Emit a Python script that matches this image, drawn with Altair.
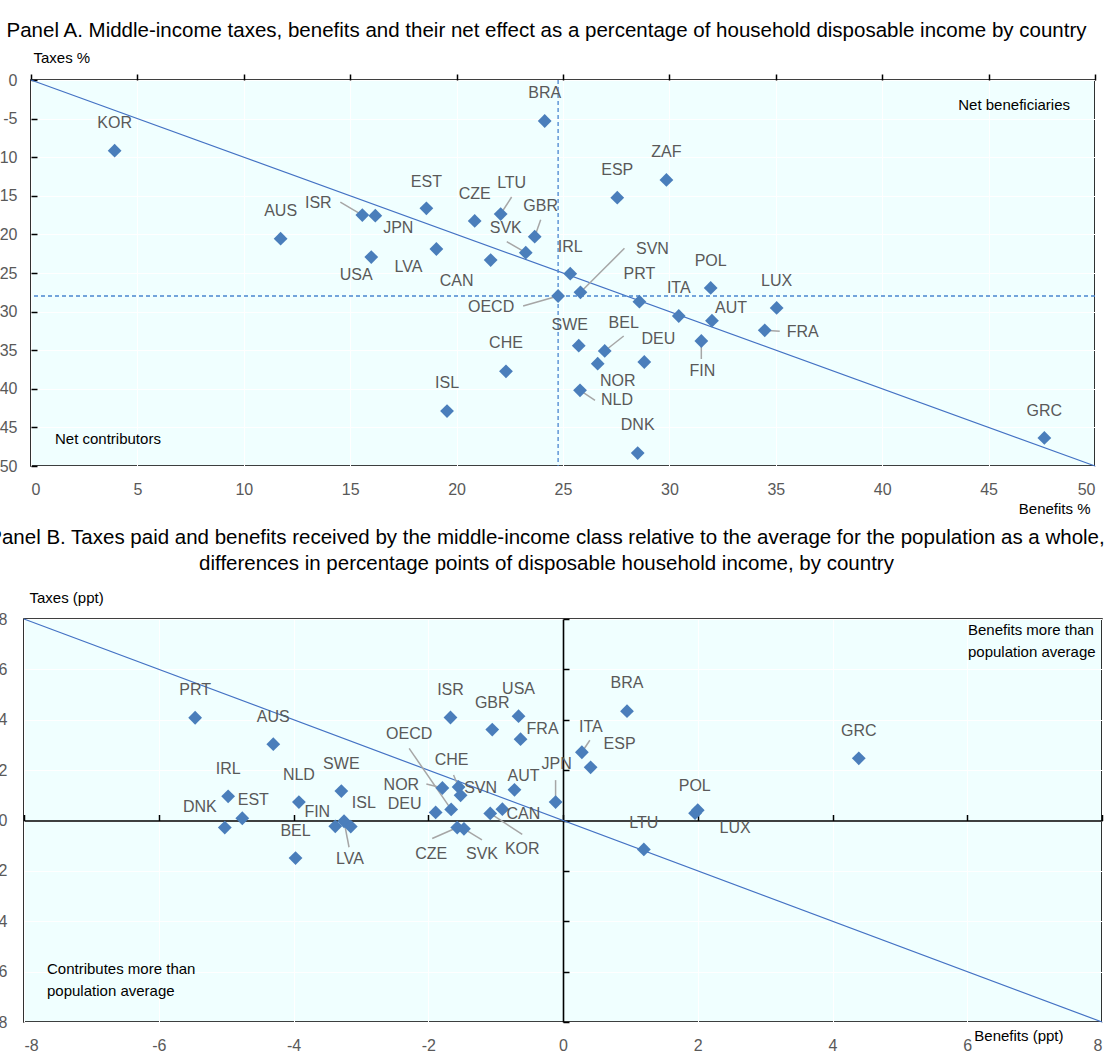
import altair as alt
import pandas as pd

FONT = "'Liberation Sans', Arial, sans-serif"
GRAY = "#595959"
BLUE = "#4A7EBB"
LINE_BLUE = "#4472C4"
DASH_BLUE = "#4A86D0"
LEADER = "#A6A6A6"
BG = "#F0FFFF"
FS_LABEL = 16
FS_TICK = 16
FS_NOTE = 15

# ---------------- Panel A: levels, % of disposable income ----------------
a_codes = ["KOR", "AUS", "ISR", "JPN", "USA", "LVA", "EST", "CZE", "LTU", "GBR",
           "SVK", "CAN", "BRA", "IRL", "OECD", "SVN", "ESP", "ZAF", "PRT", "ITA",
           "POL", "AUT", "LUX", "FRA", "FIN", "SWE", "BEL", "NOR", "DEU", "NLD",
           "CHE", "ISL", "DNK", "GRC"]
a_benefits = [3.93, 11.73, 15.57, 16.18, 15.99, 19.05, 18.58, 20.85, 22.07, 23.67,
              23.25, 21.60, 24.14, 25.34, 24.77, 25.82, 27.55, 29.86, 28.59, 30.44,
              31.94, 32.00, 35.04, 34.48, 31.50, 25.74, 26.96, 26.63, 28.82, 25.80,
              22.32, 19.55, 28.51, 47.62]
a_taxes = [-9.16, -20.55, -17.49, -17.58, -22.93, -21.89, -16.62, -18.26, -17.36, -20.29,
           -22.37, -23.32, -5.31, -25.09, -27.98, -27.50, -15.24, -12.95, -28.71, -30.57,
           -26.94, -31.17, -29.53, -32.43, -33.81, -34.41, -35.10, -36.74, -36.53, -40.20,
           -37.74, -42.88, -48.32, -46.37]
# label placement relative to the marker, in screen pixels (right / down)
a_label_dx = [0, 0, -44, 23, -15, -28, 0, 0, 11, 6,
              -20, -34, 0, 0, -67, 72, 0, 0, 0, 0,
              0, 19, 0, 38, 1, -9, 19, 20, 14, 37,
              0, 0, 0, 0]
a_label_dy = [-28, -28, -12, 12, 18, 18, -26, -27, -31, -31,
              -25, 21, -28, -27, 11, -43, -28, -28, -28, -28,
              -27, -13, -27, 2, 30, -21, -28, 17, -23, 10,
              -28, -28, -28, -27]
# leader line end points (pixels from the marker)
a_leader = {"ISR": (-22, -13), "LTU": (11, -17), "GBR": (6, -17), "SVK": (-19, -11),
            "OECD": (-35, 10), "SVN": (44, -44), "FRA": (15, 1), "FIN": (0, 18),
            "BEL": (19, -15), "NLD": (15, 10)}
a_x_domain = [0, 50]
a_y_domain = [-50, 0]
a_x_ticks = [0, 5, 10, 15, 20, 25, 30, 35, 40, 45, 50]
a_y_ticks = [0, -5, -10, -15, -20, -25, -30, -35, -40, -45, -50]

# ---------------- Panel B: middle class minus population, ppt ----------------
b_codes = ["PRT", "AUS", "IRL", "EST", "DNK", "NLD", "BEL", "SWE", "FIN", "LVA",
           "ISL", "DEU", "NOR", "OECD", "CHE", "SVN", "CZE", "SVK", "KOR", "CAN",
           "AUT", "JPN", "ISR", "GBR", "USA", "FRA", "ITA", "ESP", "BRA", "LTU",
           "POL", "LUX", "GRC"]
b_benefits = [-5.46, -4.30, -4.97, -4.76, -5.02, -3.92, -3.97, -3.29, -3.38, -3.25,
              -3.15, -1.89, -1.79, -1.66, -1.55, -1.52, -1.57, -1.47, -1.08, -0.90,
              -0.72, -0.11, -1.67, -1.05, -0.66, -0.63, 0.28, 0.41, 0.95, 1.20,
              2.00, 1.96, 4.39]
b_taxes = [4.08, 3.03, 0.96, 0.09, -0.28, 0.73, -1.49, 1.17, -0.23, -0.03,
           -0.24, 0.32, 1.29, 0.44, 1.33, 1.00, -0.28, -0.33, 0.28, 0.45,
           1.22, 0.73, 4.09, 3.61, 4.14, 3.23, 2.71, 2.11, 4.34, -1.15,
           0.41, 0.29, 2.47]
b_label_dx = [0, 0, 0, 11, -25, 0, 0, 0, -18, 6,
              13, -31, -41, -42, -7, 20, -26, 18, 32, 21,
              9, 1, 0, 0, 0, 22, 9, 29, 0, 0,
              -3, 40, 0]
b_label_dy = [-28, -27, -27, -18, -21, -27, -27, -27, -14, 38,
              -24, -8, -3, -75, -27, -7, 26, 25, 36, 5,
              -14, -38, -27, -27, -27, -10, -25, -23, -28, -26,
              -24, 15, -27]
b_leader = {"LVA": (5, 26), "NOR": (-16, -4), "OECD": (-42, -61), "CHE": (-5, -12),
            "CZE": (-25, 11), "SVK": (18, 11), "KOR": (32, 21), "JPN": (0, -22),
            "ITA": (8, -12)}
b_x_domain = [-8, 8]
b_y_domain = [-8, 8]
b_ticks = [-8, -6, -4, -2, 0, 2, 4, 6, 8]

A_W, A_H = 1064, 386
B_W, B_H = 1078, 403
GAP = 153
PAD = {"left": 24, "top": 80, "right": 6, "bottom": 29}


def frame(codes, xs, ys, ldx, ldy, leaders, xdom, ydom, w, h):
    kx = (xdom[1] - xdom[0]) / w
    ky = (ydom[1] - ydom[0]) / h
    df = pd.DataFrame({"code": codes, "benefits": xs, "taxes": ys})
    df["lx"] = [x + d * kx for x, d in zip(xs, ldx)]
    df["ly"] = [y - d * ky for y, d in zip(ys, ldy)]
    rows = []
    for c, x, y in zip(codes, xs, ys):
        if c in leaders:
            ex, ey = leaders[c]
            rows.append({"code": c, "benefits": x, "taxes": y,
                         "ex": x + ex * kx, "ey": y - ey * ky})
    return df, pd.DataFrame(rows)


def build_panel(df, lead, xdom, ydom, w, h, xticks, yticks, xtitle, ytitle,
                xt_pos, yt_pos, lab_pad_x, lab_pad_y, inner_axes, notes, title):
    sx = alt.Scale(domain=xdom, nice=False, zero=False)
    sy = alt.Scale(domain=ydom, nice=False, zero=False)
    X = lambda f: alt.X(f, type="quantitative", scale=sx, axis=None)
    Y = lambda f: alt.Y(f, type="quantitative", scale=sy, axis=None)
    base = alt.Chart(df)

    layers = []
    # break-even line: taxes equal to benefits
    diag = pd.DataFrame({"x0": [xdom[0]], "x1": [xdom[1]], "y0": [ydom[1]], "y1": [ydom[0]]})
    layers.append(alt.Chart(diag).mark_rule(color=LINE_BLUE, strokeWidth=1.2).encode(
        x=X("x0"), y=Y("y0"), x2="x1", y2="y1"))
    if inner_axes == "oecd":
        oecd = base.transform_filter(alt.datum.code == "OECD")
        layers.append(oecd.mark_rule(color=DASH_BLUE, strokeWidth=1.3, strokeDash=[4, 3]).encode(x=X("benefits")))
        layers.append(oecd.mark_rule(color=DASH_BLUE, strokeWidth=1.3, strokeDash=[4, 3]).encode(y=Y("taxes")))
    layers.append(alt.Chart(lead).mark_rule(color=LEADER, strokeWidth=1.5).encode(
        x=X("benefits"), y=Y("taxes"), x2="ex", y2="ey"))
    layers.append(base.mark_point(shape="diamond", filled=True, size=190, color=BLUE, opacity=1).encode(
        x=X("benefits"), y=Y("taxes")))
    layers.append(base.mark_text(font=FONT, fontSize=FS_LABEL, color=GRAY).encode(
        x=X("lx"), y=Y("ly"), text="code:N"))
    for txt, xv, yv, align, dx, dy in notes:
        layers.append(alt.Chart(pd.DataFrame({"v": [0]})).mark_text(
            font=FONT, fontSize=FS_NOTE, color="black", align=align, baseline="top",
            lineHeight=22, lineBreak="\n", dx=dx, dy=dy).encode(
            x=alt.X(datum=xv, type="quantitative", scale=sx, axis=None),
            y=alt.Y(datum=yv, type="quantitative", scale=sy, axis=None),
            text=alt.value(txt)))

    common = dict(labelFont=FONT, labelFontSize=FS_TICK, labelColor=GRAY,
                  titleFont=FONT, titleFontSize=FS_NOTE, titleFontWeight="normal",
                  titleColor="black", titleAngle=0, titleBaseline="middle")
    x_main = alt.Axis(orient="bottom", values=xticks, ticks=False, tickSize=0, domain=False,
                      grid=True, gridColor="white", gridWidth=1, labelPadding=lab_pad_x,
                      title=xtitle, titleAlign="right", titleX=xt_pos[0], titleY=xt_pos[1],
                      **common)
    y_main = alt.Axis(orient="left", values=yticks, ticks=False, tickSize=0, domain=False,
                      grid=True, gridColor="white", gridWidth=1, labelPadding=lab_pad_y,
                      title=ytitle, titleAlign="left", titleX=yt_pos[0], titleY=yt_pos[1],
                      **common)
    layers.append(base.mark_point(opacity=0).encode(
        x=alt.X("benefits:Q", scale=sx, axis=x_main),
        y=alt.Y("taxes:Q", scale=sy, axis=y_main)))

    if inner_axes == "oecd":
        x_tick = alt.Axis(orient="top", values=xticks, labels=False, ticks=True, tickSize=6,
                          tickColor="black", tickWidth=1.5, domain=False, grid=False, title=None)
        y_tick = alt.Axis(orient="right", offset=-w, values=yticks, labels=False, ticks=True,
                          tickSize=6, tickColor="black", tickWidth=1.5, domain=False,
                          grid=False, title=None)
    else:
        x_tick = alt.Axis(orient="top", offset=-h / 2, values=xticks, labels=False, ticks=True,
                          tickSize=6, tickColor="black", tickWidth=1.5, domain=True,
                          domainColor="black", domainWidth=1.6, grid=False, title=None)
        y_tick = alt.Axis(orient="right", offset=-w / 2, values=yticks, labels=False, ticks=True,
                          tickSize=6, tickColor="black", tickWidth=1.5, domain=True,
                          domainColor="black", domainWidth=1.6, grid=False, title=None)
    layers.append(base.mark_point(opacity=0).encode(
        x=alt.X("benefits:Q", scale=sx, axis=x_tick),
        y=alt.Y("taxes:Q", scale=sy, axis=y_tick)))

    return alt.layer(*layers).resolve_axis(x="independent", y="independent").properties(
        width=w, height=h, title=title,
        view=alt.ViewBackground(fill=BG, stroke="black", strokeWidth=1.6))


df_a, lead_a = frame(a_codes, a_benefits, a_taxes, a_label_dx, a_label_dy, a_leader,
                     a_x_domain, a_y_domain, A_W, A_H)
df_b, lead_b = frame(b_codes, b_benefits, b_taxes, b_label_dx, b_label_dy, b_leader,
                     b_x_domain, b_y_domain, B_W, B_H)

title_a = alt.TitleParams(
    text="Panel A. Middle-income taxes, benefits and their net effect as a percentage of household disposable income by country",
    anchor="middle", frame="group", dx=-16.5, offset=9, font=FONT, fontSize=20.5,
    fontWeight="normal", color="black")
title_b = alt.TitleParams(
    text=["Panel B. Taxes paid and benefits received by the middle-income class relative to the average for the population as a whole,",
          "differences in percentage points of disposable household income, by country"],
    anchor="middle", frame="group", dx=-16.5, offset=16, lineHeight=26, font=FONT,
    fontSize=20.5, fontWeight="normal", color="black")

panel_a = build_panel(
    df_a, lead_a, a_x_domain, a_y_domain, A_W, A_H, a_x_ticks, a_y_ticks,
    "Benefits %", "Taxes %", (1059, 42), (2, -23), 15, 14, "oecd",
    [("Net beneficiaries", a_x_domain[1], a_y_domain[1], "right", -25, 18),
     ("Net contributors", a_x_domain[0], a_y_domain[0], "left", 24, -34)],
    title_a)

panel_b = build_panel(
    df_b, lead_b, b_x_domain, b_y_domain, B_W, B_H, b_ticks, b_ticks,
    "Benefits (ppt)", "Taxes (ppt)", (1039, 13), (5, -22), 15, 17, "zero",
    [("Benefits more than\npopulation average", b_x_domain[1], b_y_domain[1], "left", -134, 4),
     ("Contributes more than\npopulation  average", b_x_domain[0], b_y_domain[0], "left", 23, -60)],
    title_b)

chart = alt.vconcat(panel_a, panel_b, spacing=GAP, center=True, bounds="flush").properties(
    autosize=alt.AutoSizeParams(type="none"),
    padding=PAD,
).configure(
    locale=alt.Locale(number=alt.NumberLocale(decimal=".", thousands=",", grouping=[3],
                                              currency=["$", ""], minus="-"))
).configure_view(fill=BG, stroke="black", strokeWidth=1.6)

# fixed drawing area for the stacked panels; anything beyond it is clipped
view_w = max(A_W, B_W)
view_h = A_H + GAP + B_H
chart.save("out.html", embed_options={
    "renderer": "svg", "actions": False,
    "patch": [{"op": "add", "path": "/width", "value": view_w},
              {"op": "add", "path": "/height", "value": view_h}]})
